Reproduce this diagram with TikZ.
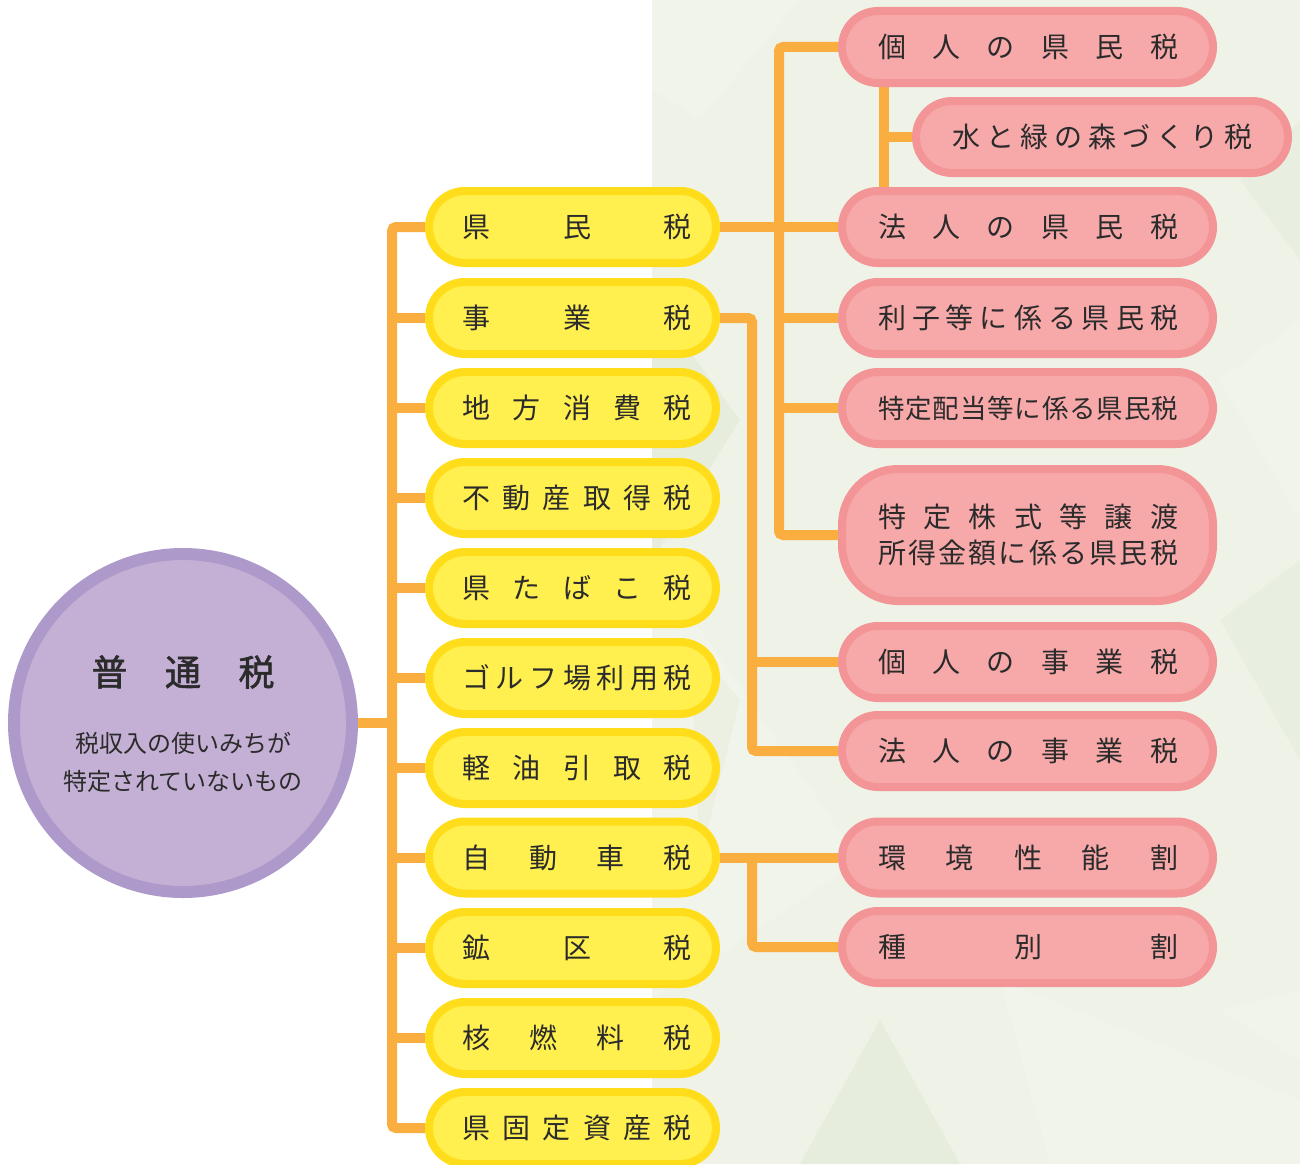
\documentclass[tikz,border=0pt]{standalone}
\usepackage{fontspec}
\setmainfont{Noto Sans CJK JP}
\newfontfamily\jpbold[FakeBold=1.6]{Noto Sans CJK JP}
\pgfdeclarelayer{bg}
\pgfdeclarelayer{lines}
\pgfsetlayers{bg,lines,main}
\definecolor{linecol}{HTML}{FBAE40}
\definecolor{ybord}{HTML}{FFDD1A}
\definecolor{yfill}{HTML}{FFF04F}
\definecolor{pbord}{HTML}{F39597}
\definecolor{pfill}{HTML}{F7A9AA}
\definecolor{cbord}{HTML}{AE9ACA}
\definecolor{cfill}{HTML}{C5B0D5}
\definecolor{txt}{HTML}{2B2B2B}
\definecolor{bggreen}{HTML}{EEF2E7}
\definecolor{bgdark}{HTML}{E0EAD3}
\definecolor{bglight}{HTML}{F5F7F0}
\tikzset{
  ybox/.style={draw=ybord, fill=yfill, line width=8pt, rounded corners=36pt,
    minimum width=287pt, minimum height=72pt, inner sep=0pt, text=txt,
    font=\fontsize{28pt}{30pt}\selectfont},
  pbox/.style={draw=pbord, fill=pfill, line width=8pt, rounded corners=36pt,
    minimum width=371pt, minimum height=72pt, inner sep=0pt, text=txt,
    font=\fontsize{28pt}{30pt}\selectfont},
  conn/.style={draw=linecol, line width=10pt, rounded corners=4pt}
}
\newcommand{\yl}[1]{\hspace*{9pt}\makebox[230pt]{#1}}
\newcommand{\pl}[1]{\hspace*{1pt}\makebox[300pt]{#1}}
\begin{document}
\begin{tikzpicture}[x=1pt,y=-1pt]
\useasboundingbox (0,0) rectangle (1300,1164);
\begin{pgfonlayer}{bg}
  \fill[white] (0,0) rectangle (1300,1164);
  \fill[bggreen] (652,0) rectangle (1300,1164);
  \fill[bgdark, opacity=0.5] (652,300) -- (740,420) -- (652,560) -- cycle;
  \fill[bglight, opacity=0.5] (652,560) -- (860,860) -- (652,1000) -- cycle;
  \fill[bgdark, opacity=0.5] (880,1020) -- (960,1164) -- (800,1164) -- cycle;
  \fill[bglight, opacity=0.5] (1000,980) -- (1300,1100) -- (1300,1164) -- (1050,1164) -- cycle;
  \fill[bgdark, opacity=0.35] (1220,620) -- (1300,560) -- (1300,760) -- cycle;
  \fill[bglight, opacity=0.5] (1220,380) -- (1300,320) -- (1300,520) -- cycle;
  \fill[bgdark, opacity=0.35] (1240,180) -- (1300,120) -- (1300,260) -- cycle;
  \fill[bglight, opacity=0.4] (652,0) -- (800,0) -- (700,120) -- (652,90) -- cycle;
  \fill[bgdark, opacity=0.3] (690,640) -- (740,700) -- (700,860) -- cycle;
  \fill[bglight, opacity=0.5] (1220,1010) -- (1300,990) -- (1300,1060) -- cycle;
\end{pgfonlayer}

% root circle
\node[circle, draw=cbord, fill=cfill, line width=12pt, minimum size=338pt, inner sep=0pt] (root) at (183,723) {};
\node[text=txt, font=\jpbold\fontsize{36pt}{38pt}\selectfont] (title) at (183,672) {\makebox[183pt]{普\hfill 通\hfill 税}};
\node[text=txt, font=\fontsize{24pt}{38pt}\selectfont, align=center] (sub) at (183,762) {税収入の使いみちが\\特定されていないもの};

% yellow boxes
\node[ybox] (y1) at (572.5,227) {\yl{県\hfill 民\hfill 税}};
\node[ybox] (y2) at (572.5,318) {\yl{事\hfill 業\hfill 税}};
\node[ybox] (y3) at (572.5,408) {\yl{地\hfill 方\hfill 消\hfill 費\hfill 税}};
\node[ybox] (y4) at (572.5,498) {\yl{不\hfill 動\hfill 産\hfill 取\hfill 得\hfill 税}};
\node[ybox] (y5) at (572.5,588) {\yl{県\hfill た\hfill ば\hfill こ\hfill 税}};
\node[ybox] (y6) at (572.5,678) {\yl{ゴ\hfill ル\hfill フ\hfill 場\hfill 利\hfill 用\hfill 税}};
\node[ybox] (y7) at (572.5,768) {\yl{軽\hfill 油\hfill 引\hfill 取\hfill 税}};
\node[ybox] (y8) at (572.5,857.5) {\yl{自\hfill 動\hfill 車\hfill 税}};
\node[ybox] (y9) at (572.5,948) {\yl{鉱\hfill 区\hfill 税}};
\node[ybox] (y10) at (572.5,1038) {\yl{核\hfill 燃\hfill 料\hfill 税}};
\node[ybox] (y11) at (572.5,1128) {\yl{県\hfill 固\hfill 定\hfill 資\hfill 産\hfill 税}};

% pink boxes
\node[pbox] (p1) at (1027.5,47) {\pl{個\hfill 人\hfill の\hfill 県\hfill 民\hfill 税}};
\node[pbox, minimum width=372pt] (p2) at (1102,137) {\pl{水\hfill と\hfill 緑\hfill の\hfill 森\hfill づ\hfill く\hfill り\hfill 税}};
\node[pbox] (p3) at (1027.5,227) {\pl{法\hfill 人\hfill の\hfill 県\hfill 民\hfill 税}};
\node[pbox] (p4) at (1027.5,318) {\pl{利\hfill 子\hfill 等\hfill に\hfill 係\hfill る\hfill 県\hfill 民\hfill 税}};
\node[pbox, font=\fontsize{26.5pt}{30pt}\selectfont] (p5) at (1027.5,408) {\pl{特\hfill 定\hfill 配\hfill 当\hfill 等\hfill に\hfill 係\hfill る\hfill 県\hfill 民\hfill 税}};
\node[pbox, minimum height=132pt, rounded corners=56pt, align=center] (p6) at (1027.5,535) {\pl{特\hfill 定\hfill 株\hfill 式\hfill 等\hfill 譲\hfill 渡}\\[6pt]\pl{所\hfill 得\hfill 金\hfill 額\hfill に\hfill 係\hfill る\hfill 県\hfill 民\hfill 税}};
\node[pbox] (p7) at (1027.5,662) {\pl{個\hfill 人\hfill の\hfill 事\hfill 業\hfill 税}};
\node[pbox] (p8) at (1027.5,751) {\pl{法\hfill 人\hfill の\hfill 事\hfill 業\hfill 税}};
\node[pbox] (p9) at (1027.5,857.5) {\pl{環\hfill 境\hfill 性\hfill 能\hfill 割}};
\node[pbox] (p10) at (1027.5,947) {\pl{種\hfill 別\hfill 割}};

% junction coordinates
\coordinate (T) at (392,723);
\coordinate (K) at (779,227);
\coordinate (J) at (752,318);
\coordinate (M) at (884,137);

\begin{pgfonlayer}{lines}
  % main trunk
  \draw[conn] (y1.west) -| (T) |- (y11.west);
  \draw[conn] (root.east) -- (T);
  \foreach \n in {y2,y3,y4,y5,y6,y7,y8,y9,y10} {
    \draw[conn] (T |- \n.west) -- (\n.west);
  }
  % kenmin-zei branch
  \draw[conn] (y1.east) -- (p3.west);
  \draw[conn] (p1.west) -| (K) |- (p6.west);
  \draw[conn] (K |- p4.west) -- (p4.west);
  \draw[conn] (K |- p5.west) -- (p5.west);
  % sub branch to mizu to midori
  \draw[conn, rounded corners=0pt] (M |- p1.south) -- (M |- p3.north);
  \draw[conn, rounded corners=0pt] (M) -- (p2.west);
  % jigyo-zei branch
  \draw[conn] (y2.east) -- (J) -- (J |- p8.west) -- (p8.west);
  \draw[conn] (J |- p7.west) -- (p7.west);
  % jidosha-zei branch
  \draw[conn] (y8.east) -- (p9.west);
  \draw[conn] (J |- y8.east) |- (p10.west);
\end{pgfonlayer}
\end{tikzpicture}
\end{document}
